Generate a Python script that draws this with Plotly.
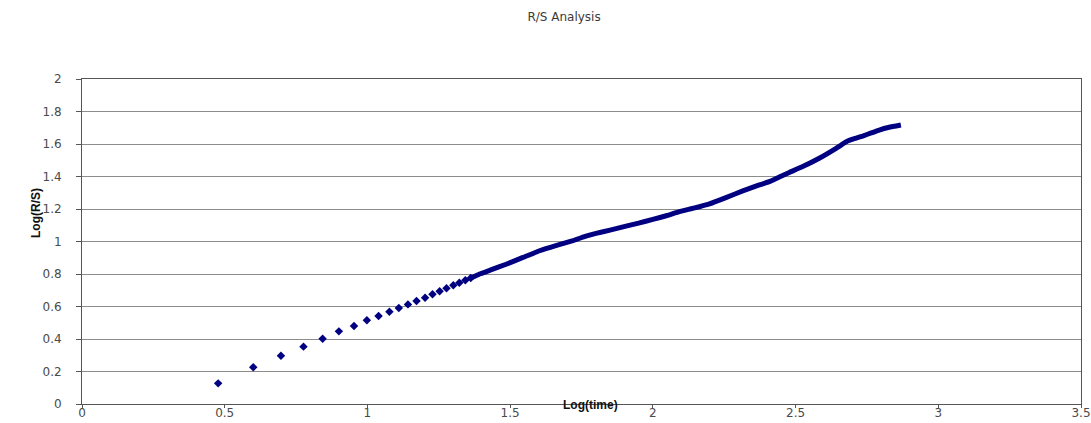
import plotly.graph_objects as go

# Sparse (individually visible) points: Log(time) vs Log(R/S)
log_time_sparse = [0.477, 0.600, 0.697, 0.776, 0.843, 0.900, 0.953, 0.998, 1.039, 1.077,
                   1.110, 1.142, 1.172, 1.202, 1.228, 1.253, 1.277, 1.301, 1.322, 1.343, 1.362]
log_rs_sparse = [0.127, 0.226, 0.297, 0.353, 0.402, 0.447, 0.480, 0.515, 0.542, 0.568,
                 0.591, 0.613, 0.634, 0.654, 0.675, 0.694, 0.712, 0.731, 0.746, 0.762, 0.775]

# Dense part of the series (points overlap into a solid band)
log_time_dense = [1.362, 1.393, 1.430, 1.486, 1.545, 1.603, 1.660, 1.720, 1.760, 1.801,
                  1.850, 1.906, 1.950, 2.000, 2.050, 2.093, 2.130, 2.163, 2.198, 2.256,
                  2.315, 2.373, 2.408, 2.443, 2.478, 2.525, 2.583, 2.642, 2.682, 2.710,
                  2.735, 2.765, 2.793, 2.828, 2.869]
log_rs_dense = [0.775, 0.800, 0.824, 0.860, 0.902, 0.943, 0.975, 1.005, 1.030, 1.050,
                1.070, 1.095, 1.113, 1.136, 1.160, 1.184, 1.200, 1.214, 1.231, 1.270,
                1.311, 1.348, 1.368, 1.397, 1.425, 1.461, 1.512, 1.573, 1.618, 1.635,
                1.649, 1.668, 1.686, 1.703, 1.717]

x_ticks = [0, 0.5, 1, 1.5, 2, 2.5, 3, 3.5]
x_tick_labels = ["0", "0.5", "1", "1.5", "2", "2.5", "3", "3.5"]
y_ticks = [0, 0.2, 0.4, 0.6, 0.8, 1, 1.2, 1.4, 1.6, 1.8, 2]
y_tick_labels = ["0", "0.2", "0.4", "0.6", "0.8", "1", "1.2", "1.4", "1.6", "1.8", "2"]

NAVY = "#000080"
AXIS = "#555555"
GRID = "#8c8c8c"
FONT = "DejaVu Sans, Liberation Sans, Arial"
TICKCOL = "#4a4a4a"

fig = go.Figure()
fig.add_trace(go.Scatter(
    x=log_time_dense, y=log_rs_dense, mode="lines",
    line=dict(color=NAVY, width=5, shape="spline", smoothing=0.3),
    hoverinfo="skip", showlegend=False,
))
fig.add_trace(go.Scatter(
    x=log_time_sparse, y=log_rs_sparse, mode="markers",
    marker=dict(symbol="diamond", size=6.5, color=NAVY, line=dict(width=0)),
    showlegend=False,
))

fig.update_layout(
    width=1091, height=423,
    margin=dict(l=82, r=10, t=79, b=19, autoexpand=False),
    paper_bgcolor="white", plot_bgcolor="white",
    font=dict(family=FONT, size=11, color="#333333"),
    title=dict(text="R/S Analysis", xref="container", yref="container",
               x=0.517, y=1 - 17 / 423, xanchor="center", yanchor="middle",
               font=dict(family=FONT, size=12, color="#3a3a3a")),
    xaxis=dict(range=[0, 3.5], tickvals=x_ticks, ticktext=x_tick_labels,
               showgrid=False, zeroline=False, showline=True, linecolor=AXIS,
               linewidth=1, mirror=True, ticks="outside", ticklen=3,
               tickcolor=AXIS, ticklabelstandoff=-5,
               tickfont=dict(family=FONT, size=12, color=TICKCOL),
               automargin=False),
    yaxis=dict(range=[0, 2], tickvals=y_ticks, ticktext=y_tick_labels,
               showgrid=True, gridcolor=GRID, gridwidth=1, zeroline=False,
               showline=True, linecolor=AXIS, linewidth=1, mirror=True,
               ticks="outside", ticklen=5, tickcolor=AXIS,
               ticklabelstandoff=12,
               tickfont=dict(family=FONT, size=12, color=TICKCOL),
               automargin=False),
    annotations=[
        dict(text="<b>Log(time)</b>", xref="paper", yref="paper",
             x=(590 - 82) / 999, y=-1 / 325, xanchor="center", yanchor="middle",
             showarrow=False,
             font=dict(family="Liberation Sans Narrow, Liberation Sans, Arial", size=12, color="#111111")),
        dict(text="<b>Log(R/S)</b>", xref="paper", yref="paper",
             x=(36 - 82) / 999, y=(404 - 213) / 325, xanchor="center", yanchor="middle",
             textangle=-90, showarrow=False,
             font=dict(family="Liberation Sans Narrow, Liberation Sans, Arial", size=12, color="#111111")),
    ],
)

fig.write_html("out.html")
